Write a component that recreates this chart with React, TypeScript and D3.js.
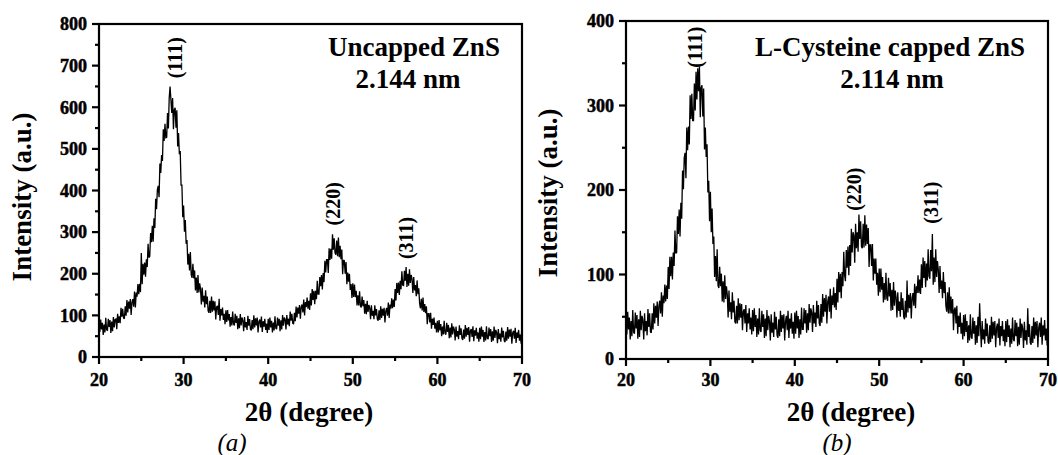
import React from "react";
import * as d3 from "d3";

const X_START = 20;
const X_STEP = 0.1;
const xMajorTicks = [20, 30, 40, 50, 60, 70];
const xMinorTicks = [25, 35, 45, 55, 65];
const aYMajorTicks = [0, 100, 200, 300, 400, 500, 600, 700, 800];
const aYMinorTicks = [50, 150, 250, 350, 450, 550, 650, 750];
const bYMajorTicks = [0, 100, 200, 300, 400];
const bYMinorTicks = [50, 150, 250, 350];

// Uncapped ZnS, 2θ = 20.0 .. 70.0, step 0.1 (one row per degree)
const aValues = [
  87, 60, 90, 66, 82, 53, 78, 59, 94, 65,
  64, 92, 72, 89, 58, 85, 62, 96, 71, 90,
  91, 67, 104, 82, 98, 81, 118, 97, 116, 94,
  92, 122, 99, 137, 107, 133, 116, 139, 101, 132,
  139, 121, 157, 119, 155, 145, 175, 151, 176, 156,
  250, 175, 224, 198, 227, 193, 235, 216, 272, 239,
  242, 298, 276, 315, 277, 333, 310, 380, 355, 402,
  411, 384, 465, 442, 485, 471, 547, 519, 560, 527,
  528, 586, 549, 622, 650, 618, 586, 622, 547, 594,
  599, 551, 593, 506, 538, 487, 495, 413, 413, 336,
  364, 301, 329, 272, 281, 222, 248, 208, 252, 198,
  190, 224, 189, 208, 160, 191, 154, 197, 155, 177,
  163, 126, 167, 133, 147, 119, 160, 127, 145, 111,
  106, 135, 106, 145, 109, 135, 112, 134, 90, 120,
  123, 101, 140, 87, 115, 100, 119, 89, 104, 79,
  112, 84, 113, 88, 103, 73, 96, 76, 109, 79,
  76, 104, 82, 99, 67, 93, 69, 103, 76, 95,
  88, 62, 96, 71, 84, 65, 99, 75, 91, 67,
  64, 89, 67, 100, 71, 93, 76, 95, 59, 85,
  90, 71, 97, 60, 86, 73, 92, 65, 80, 58,
  92, 65, 95, 71, 87, 59, 83, 64, 98, 69,
  67, 95, 75, 92, 62, 88, 66, 101, 75, 95,
  91, 66, 101, 78, 92, 74, 109, 87, 104, 81,
  79, 106, 86, 121, 95, 119, 104, 125, 92, 120,
  126, 107, 138, 100, 132, 120, 143, 116, 135, 113,
  153, 124, 163, 137, 159, 127, 159, 139, 183, 151,
  151, 192, 170, 197, 162, 202, 180, 231, 203, 234,
  234, 202, 261, 233, 260, 236, 295, 258, 285, 250,
  246, 280, 242, 287, 240, 267, 235, 258, 199, 233,
  231, 200, 228, 175, 203, 181, 200, 161, 175, 142,
  177, 144, 174, 144, 159, 124, 148, 124, 158, 123,
  119, 145, 122, 137, 104, 128, 103, 135, 108, 125,
  118, 91, 124, 99, 111, 91, 124, 100, 115, 91,
  87, 112, 89, 122, 94, 116, 99, 118, 83, 110,
  118, 99, 131, 94, 126, 116, 141, 117, 138, 120,
  163, 136, 178, 154, 179, 149, 183, 163, 206, 173,
  172, 207, 183, 216, 168, 200, 171, 211, 178, 197,
  187, 154, 192, 160, 173, 146, 184, 151, 165, 128,
  117, 140, 112, 143, 108, 127, 105, 122, 79, 104,
  104, 83, 106, 68, 92, 77, 95, 68, 82, 59,
  87, 59, 89, 64, 79, 50, 73, 54, 87, 57,
  54, 82, 60, 77, 45, 71, 47, 81, 54, 73,
  66, 40, 73, 49, 62, 43, 76, 53, 69, 45,
  41, 66, 44, 77, 49, 70, 53, 72, 37, 63,
  67, 48, 74, 38, 64, 51, 70, 44, 59, 37,
  70, 43, 73, 49, 65, 36, 60, 40, 74, 45,
  43, 71, 50, 67, 36, 62, 39, 73, 46, 65,
  59, 33, 67, 43, 56, 37, 71, 47, 63, 39,
  36, 61, 39, 72, 44, 66, 49, 68, 32, 58,
  63, 44, 70, 34, 59, 46, 65, 39, 54, 32,
  88,
];

// L-Cysteine capped ZnS, 2θ = 20.0 .. 70.0, step 0.1 (one row per degree)
const bValues = [
  54, 29, 56, 35, 49, 23, 45, 27, 58, 32,
  30, 55, 36, 52, 24, 47, 26, 57, 34, 51,
  46, 23, 54, 33, 45, 28, 59, 38, 54, 32,
  31, 54, 35, 66, 42, 63, 49, 68, 39, 63,
  69, 54, 79, 50, 75, 66, 88, 68, 87, 71,
  109, 83, 121, 98, 121, 94, 126, 110, 152, 125,
  126, 169, 148, 177, 145, 185, 166, 223, 201, 238,
  244, 214, 274, 247, 275, 254, 312, 284, 314, 282,
  282, 326, 294, 340, 307, 344, 317, 346, 286, 321,
  324, 287, 320, 248, 274, 239, 254, 197, 211, 163,
  198, 150, 178, 136, 145, 97, 122, 92, 130, 87,
  84, 109, 86, 101, 68, 92, 67, 99, 71, 86,
  76, 49, 81, 56, 67, 47, 79, 55, 69, 44,
  42, 63, 42, 72, 46, 66, 49, 65, 34, 56,
  59, 42, 64, 32, 54, 42, 60, 35, 49, 29,
  58, 33, 60, 38, 52, 26, 48, 29, 60, 34,
  32, 57, 38, 53, 25, 48, 27, 58, 34, 51,
  45, 22, 53, 31, 43, 26, 56, 35, 50, 28,
  25, 47, 27, 57, 32, 52, 36, 53, 22, 45,
  51, 34, 57, 25, 48, 36, 54, 30, 44, 24,
  55, 30, 57, 36, 51, 25, 47, 29, 61, 35,
  35, 60, 42, 58, 31, 54, 34, 65, 43, 60,
  55, 32, 64, 42, 55, 38, 69, 48, 64, 42,
  39, 65, 43, 77, 50, 72, 56, 76, 42, 68,
  74, 56, 83, 48, 75, 64, 85, 61, 78, 58,
  95, 67, 103, 79, 101, 72, 103, 86, 127, 99,
  92, 129, 108, 133, 99, 135, 110, 154, 126, 150,
  146, 114, 160, 131, 150, 127, 171, 142, 163, 133,
  131, 160, 132, 170, 134, 159, 136, 155, 109, 135,
  135, 110, 136, 93, 119, 101, 119, 88, 102, 75,
  107, 79, 107, 82, 97, 67, 90, 70, 102, 72,
  69, 96, 74, 90, 57, 82, 58, 91, 63, 81,
  73, 49, 79, 57, 68, 50, 79, 58, 72, 50,
  47, 69, 49, 93, 55, 76, 60, 78, 48, 72,
  78, 63, 89, 60, 86, 78, 99, 78, 94, 77,
  112, 84, 120, 96, 116, 85, 113, 93, 130, 98,
  95, 129, 104, 148, 88, 120, 91, 130, 97, 116,
  106, 78, 110, 83, 93, 72, 103, 78, 91, 63,
  56, 79, 54, 85, 54, 74, 54, 71, 34, 58,
  61, 42, 63, 30, 51, 38, 55, 30, 43, 23,
  52, 27, 53, 32, 45, 19, 40, 22, 53, 26,
  24, 49, 30, 45, 17, 40, 19, 50, 27, 66,
  37, 14, 45, 23, 35, 18, 48, 27, 42, 20,
  18, 40, 20, 50, 24, 44, 28, 45, 14, 37,
  42, 25, 48, 16, 39, 27, 45, 21, 35, 15,
  45, 20, 47, 26, 40, 14, 36, 18, 49, 23,
  21, 46, 27, 43, 15, 38, 17, 48, 25, 42,
  36, 13, 44, 22, 34, 17, 60, 26, 41, 19,
  17, 39, 19, 49, 24, 44, 28, 45, 14, 37,
  43, 26, 49, 17, 40, 28, 46, 22, 36, 16,
  40,
];

const peakLabels = ["(111)", "(220)", "(311)"];
const aPeakPos = [[28.98, 719], [47.66, 368], [56.29, 286]];
const bPeakPos = [[28.18, 369], [47.01, 201], [56.14, 185]];

const SERIF = "'Liberation Serif', 'Times New Roman', Times, serif";

type PanelProps = {
  values: number[];
  x0: number; x1: number; y0: number; y1: number;
  yMax: number; yMajor: number[]; yMinor: number[];
  peakPos: number[][];
  title: string; subtitle: string; titleX: number; subX: number;
  yLabelX: number; yLabelY: number; xLabelX: number; captionX: number; caption: string;
};

function Panel(p: PanelProps) {
  const x = d3.scaleLinear().domain([20, 70]).range([p.x0, p.x1]);
  const y = d3.scaleLinear().domain([0, p.yMax]).range([p.y0, p.y1]);
  const line = d3.line<number>()
    .x((_, i) => x(X_START + i * X_STEP))
    .y((d) => y(d));
  const major = 7, minor = 4;
  const thick = { stroke: "#000", strokeWidth: 0.5 };
  return (
    <g fontFamily={SERIF}>
      <path d={line(p.values) || ""} fill="none" stroke="#000" strokeWidth={1.3} strokeLinejoin="miter" strokeMiterlimit={2} />
      <rect x={p.x0} y={p.y1} width={p.x1 - p.x0} height={p.y0 - p.y1} fill="none" stroke="#000" strokeWidth={2.2} />
      {xMajorTicks.map((t) => (
        <g key={"xm" + t}>
          <line x1={x(t)} x2={x(t)} y1={p.y0} y2={p.y0 + major} stroke="#000" strokeWidth={2.2} />
          <text x={x(t)} y={386} textAnchor="middle" fontSize={18} fontWeight="bold" {...thick}>{t}</text>
        </g>
      ))}
      {xMinorTicks.map((t) => (
        <line key={"xn" + t} x1={x(t)} x2={x(t)} y1={p.y0} y2={p.y0 + minor} stroke="#000" strokeWidth={2.2} />
      ))}
      {p.yMajor.map((t) => (
        <g key={"ym" + t}>
          <line x1={p.x0 - major} x2={p.x0} y1={y(t)} y2={y(t)} stroke="#000" strokeWidth={2.2} />
          <text x={p.x0 - 12} y={y(t)} dy="0.35em" textAnchor="end" fontSize={18} fontWeight="bold" {...thick}>{t}</text>
        </g>
      ))}
      {p.yMinor.map((t) => (
        <line key={"yn" + t} x1={p.x0 - minor} x2={p.x0} y1={y(t)} y2={y(t)} stroke="#000" strokeWidth={2.2} />
      ))}
      {p.peakPos.map((pp, i) => (
        <text key={"pk" + i} transform={`translate(${x(pp[0])},${y(pp[1])}) rotate(-90)`} textAnchor="middle"
          dominantBaseline="central" fontSize={20} fontWeight="bold">{peakLabels[i]}</text>
      ))}
      <text x={p.titleX} y={56} textAnchor="middle" fontSize={27} fontWeight="bold">{p.title}</text>
      <text x={p.subX} y={88} textAnchor="middle" fontSize={27} fontWeight="bold">{p.subtitle}</text>
      <text transform={`translate(${p.yLabelX},${p.yLabelY}) rotate(-90)`} textAnchor="middle"
        dominantBaseline="central" fontSize={27} fontWeight="bold">Intensity (a.u.)</text>
      <text x={p.xLabelX} y={421} textAnchor="middle" fontSize={27} fontWeight="bold">2θ (degree)</text>
      <text x={p.captionX} y={451} textAnchor="middle" fontSize={25} fontStyle="italic">{p.caption}</text>
    </g>
  );
}

export default function App() {
  return (
    <svg width={1058} height={455} viewBox="0 0 1058 455"
      style={{ position: "absolute", left: 0, top: 0, background: "#fff" }}>
      <rect width={1058} height={455} fill="#fff" />
      <Panel values={aValues} x0={99} x1={522} y0={357} y1={24} yMax={800}
        yMajor={aYMajorTicks} yMinor={aYMinorTicks} peakPos={aPeakPos}
        title="Uncapped ZnS" subtitle="2.144 nm" titleX={414} subX={408}
        yLabelX={22} yLabelY={197} xLabelX={309} captionX={232} caption="(a)" />
      <Panel values={bValues} x0={626} x1={1048} y0={359} y1={21} yMax={400}
        yMajor={bYMajorTicks} yMinor={bYMinorTicks} peakPos={bPeakPos}
        title="L-Cysteine capped ZnS" subtitle="2.114 nm" titleX={890} subX={892}
        yLabelX={548} yLabelY={193} xLabelX={851} captionX={837} caption="(b)" />
    </svg>
  );
}
